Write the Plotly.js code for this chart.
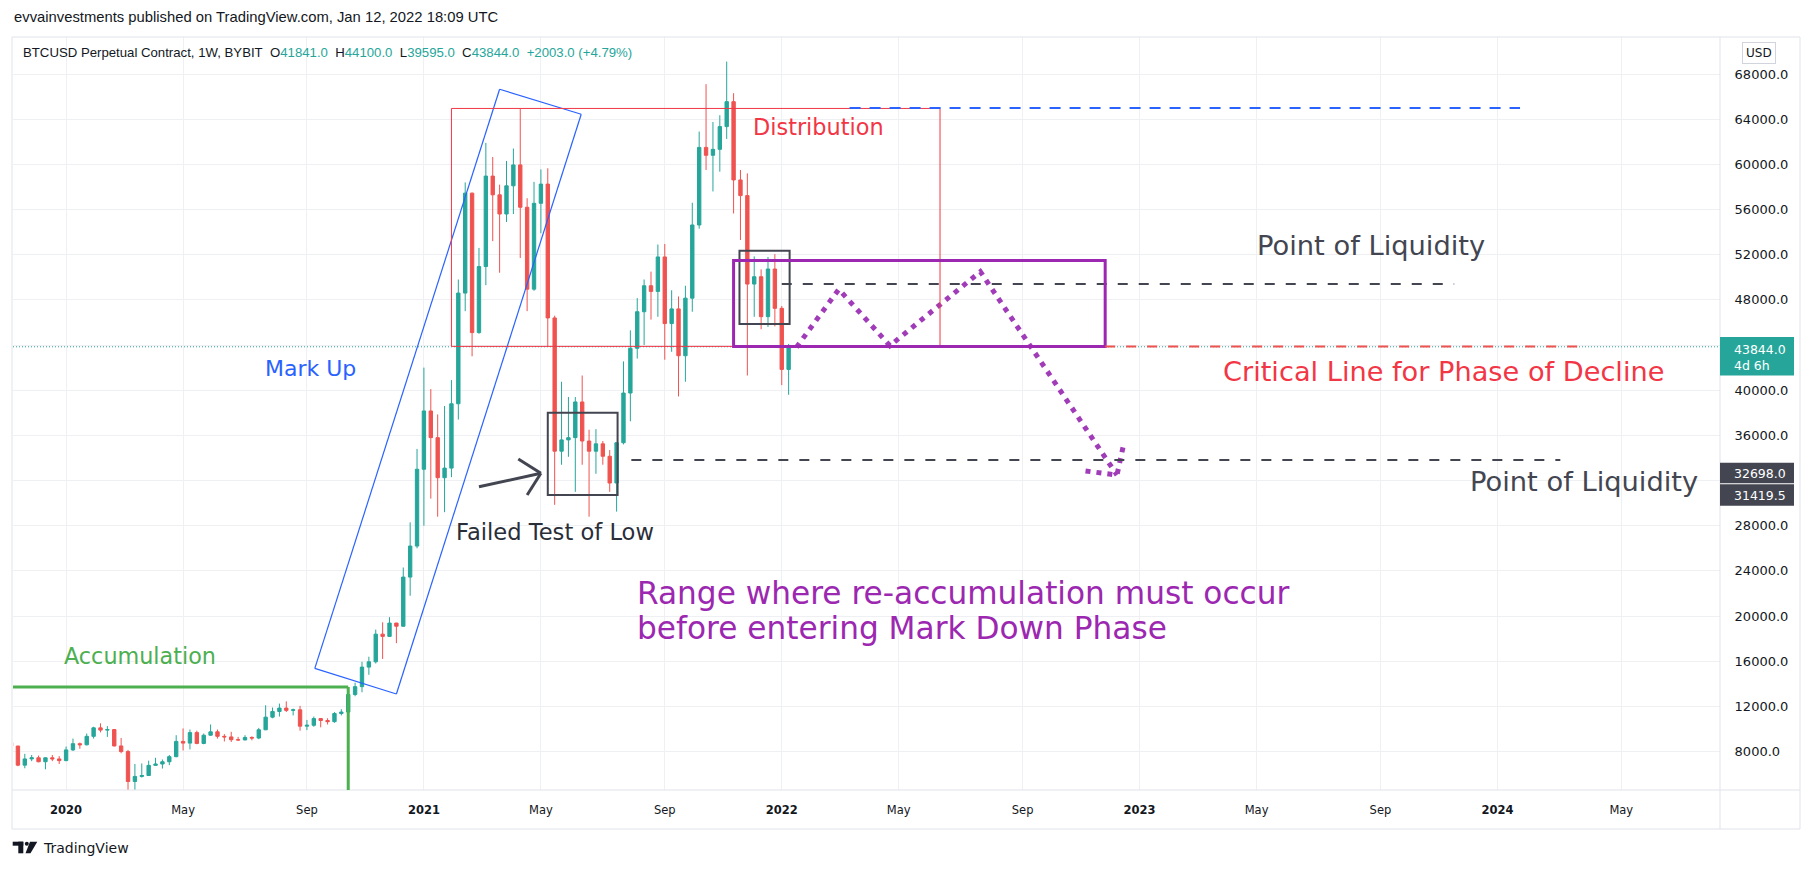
<!DOCTYPE html>
<html><head><meta charset="utf-8">
<script src="https://cdn.plot.ly/plotly-3.0.1.min.js"></script>
<style>html,body{margin:0;padding:0;background:#fff;}#chart{width:1813px;height:870px;}</style>
</head><body><div id="chart"></div>
<script>
// ---- weekly candles (BTCUSD Perpetual, BYBIT, 1W) ----
const weeks = ['2019-11-11','2019-11-18','2019-11-25','2019-12-02','2019-12-09','2019-12-16','2019-12-23','2019-12-30',
'2020-01-06','2020-01-13','2020-01-20','2020-01-27','2020-02-03','2020-02-10','2020-02-17','2020-02-24','2020-03-02','2020-03-09','2020-03-16','2020-03-23','2020-03-30',
'2020-04-06','2020-04-13','2020-04-20','2020-04-27','2020-05-04','2020-05-11','2020-05-18','2020-05-25','2020-06-01','2020-06-08','2020-06-15','2020-06-22','2020-06-29',
'2020-07-06','2020-07-13','2020-07-20','2020-07-27','2020-08-03','2020-08-10','2020-08-17','2020-08-24','2020-08-31','2020-09-07','2020-09-14','2020-09-21','2020-09-28',
'2020-10-05','2020-10-12','2020-10-19','2020-10-26','2020-11-02','2020-11-09','2020-11-16','2020-11-23','2020-11-30','2020-12-07','2020-12-14','2020-12-21','2020-12-28',
'2021-01-04','2021-01-11','2021-01-18','2021-01-25','2021-02-01','2021-02-08','2021-02-15','2021-02-22','2021-03-01','2021-03-08','2021-03-15','2021-03-22','2021-03-29',
'2021-04-05','2021-04-12','2021-04-19','2021-04-26','2021-05-03','2021-05-10','2021-05-17','2021-05-24','2021-05-31','2021-06-07','2021-06-14','2021-06-21','2021-06-28',
'2021-07-05','2021-07-12','2021-07-19','2021-07-26','2021-08-02','2021-08-09','2021-08-16','2021-08-23','2021-08-30','2021-09-06','2021-09-13','2021-09-20','2021-09-27',
'2021-10-04','2021-10-11','2021-10-18','2021-10-25','2021-11-01','2021-11-08','2021-11-15','2021-11-22','2021-11-29','2021-12-06','2021-12-13','2021-12-20','2021-12-27',
'2022-01-03','2022-01-10'];
const opens = [8800,8490,6800,7350,7450,7100,7450,7350,
7200,8150,8700,8600,9350,10100,9900,9950,8500,8000,5350,5800,5880,
6780,6900,7100,7550,8900,8750,9680,8720,9450,9750,9350,9300,9050,
9030,9250,9200,9930,11050,11550,11850,11650,11700,10250,10330,10920,10750,
10650,11370,11500,13050,13750,15480,15950,18400,18200,19380,19100,23450,26200,
33000,38160,35800,32250,33100,38800,48600,57450,45100,50950,58960,57300,55600,
58100,59950,56200,48950,56550,58250,46400,34600,35600,35800,38960,35500,34600,
35250,34150,31780,35350,39750,43710,46950,49250,48750,51800,45900,47200,43050,
48150,54630,61500,60800,61330,63340,65550,58620,57230,49400,50050,46510,50730,
47250,41841];
const highs = [9100,8500,7800,7700,7650,7500,7700,7600,
8450,9150,8800,9600,10200,10500,10250,10000,9200,8150,6900,6950,7200,
7450,7300,7700,9450,10050,9950,9850,9600,10400,9950,9550,9750,9300,
9450,9350,10100,12100,11900,12250,12450,11800,12050,10800,11100,10950,10950,
11500,11750,13350,14100,15950,16400,18800,19450,19900,19400,24300,28300,34800,
42000,40100,37850,38600,40900,49800,58400,57500,52600,61900,60650,58200,60300,
61400,64900,57000,58450,59550,59650,46600,40750,39400,39400,41300,36500,36550,
35500,34700,35400,42550,45300,48150,49800,50500,52900,52950,48850,48300,49250,
56600,62900,67100,63750,64350,69100,66300,59500,59200,51850,50700,51800,52050,
47450,44100];
const lows = [8400,6700,6520,7150,7050,6430,7150,6900,
7150,8050,8250,8550,9150,9700,9300,8450,7850,3850,4450,5700,5850,
6750,6500,6800,7500,8100,8200,8650,8650,9400,9150,8900,8850,8950,
9000,9000,9100,9900,10950,11100,11500,11200,9850,9900,10200,10150,10400,
10550,11200,11400,12900,13250,14800,15800,16200,18150,17600,19050,21800,26000,
28000,30400,28800,29200,32300,37400,47000,43000,45000,49300,53200,50400,54900,
55600,51700,47000,48800,53900,43850,29850,33400,34100,31000,33400,28800,32600,
33400,31000,29250,35200,37250,42800,44000,46250,46500,42700,43400,39450,40750,
46950,54300,59500,57600,59350,62250,55650,53300,41300,46500,45400,45600,45650,
40450,39595];
const closes = [8490,6800,7350,7450,7100,7450,7350,7200,
8150,8700,8600,9350,10100,9900,9950,8500,8000,5350,5800,5880,6780,
6900,7100,7550,8900,8750,9680,8720,9450,9750,9350,9300,9050,9030,
9250,9200,9930,11050,11550,11850,11650,11700,10250,10330,10920,10750,10650,
11370,11500,13050,13750,15480,15950,18400,18200,19380,19100,23450,26200,33000,
38160,35800,32250,33100,38800,48600,57450,45100,50950,58960,57300,55600,58100,
59950,56200,48950,56550,58250,46400,34600,35600,35800,38960,35500,34600,35250,
34150,31780,35350,39750,43710,46950,49250,48750,51800,45900,47200,43050,48150,
54630,61500,60800,61330,63340,65550,58620,57230,49400,50050,46510,50730,47250,
41841,43844];

// ---- axis ticks ----
const tickDates = ['2020-01-06','2020-05-04','2020-09-07','2021-01-04','2021-05-03','2021-09-06','2022-01-03','2022-05-02','2022-09-05','2023-01-02','2023-05-01','2023-09-04','2024-01-01','2024-05-06'];
const tickLabels = ['<b>2020</b>','May','Sep','<b>2021</b>','May','Sep','<b>2022</b>','May','Sep','<b>2023</b>','May','Sep','<b>2024</b>','May'];
const priceTicks = [8000,12000,16000,20000,24000,28000,32000,36000,40000,44000,48000,52000,56000,60000,64000,68000];
// labels hidden behind the price-scale markers (44000 / 32000) in the reference
const priceTickLabels = ['8000.0','12000.0','16000.0','20000.0','24000.0','28000.0','','36000.0','40000.0','','48000.0','52000.0','56000.0','60000.0','64000.0','68000.0'];

// ---- drawn projection path (dotted arrow) ----
const projDates = ['2022-01-18','2022-03-02','2022-04-23','2022-07-24','2022-12-10',null,'2022-11-08','2022-12-10','2022-12-17'];
const projPrices = [43800,48935,43941,50494,32492,null,32845,32492,35298];

const lastPrice = 43844;
const levelLow = 33820, levelHigh = 49400, criticalLevel = 43880;

// ---- layout helpers (pixel -> paper for frame decorations) ----
const L=13, R=1720, T=37, B=790;
const px = x => (x - L) / (R - L);
const py = y => (B - y) / (B - T);
const F = 'DejaVu Sans, sans-serif';
const FH = 'Liberation Sans, Arial, sans-serif';
const UP = '#26a69a', DN = '#ef5350';

const candles = {
  type:'candlestick', x:weeks, open:opens, high:highs, low:lows, close:closes,
  increasing:{line:{color:UP,width:1}, fillcolor:UP},
  decreasing:{line:{color:DN,width:1}, fillcolor:DN},
  whiskerwidth:0, hoverinfo:'skip', showlegend:false
};
const proj = {
  type:'scatter', mode:'lines', x:projDates, y:projPrices, connectgaps:false,
  line:{color:'#a03cb8', width:5, dash:'5px,6px'}, hoverinfo:'skip', showlegend:false
};

function ln(x0,y0,x1,y1,color,width,dash){
  return {type:'line', xref:'x', yref:'y', x0, y0, x1, y1, line:{color, width, dash: dash||'solid'}};
}
function pline(x0,y0,x1,y1,color){
  return {type:'line', xref:'paper', yref:'paper', x0:px(x0), y0:py(y0), x1:px(x1), y1:py(y1), line:{color:color||'#e0e3eb', width:1}};
}
function prect(x0,y0,x1,y1,fill){
  return {type:'rect', xref:'paper', yref:'paper', x0:px(x0), y0:py(y0), x1:px(x1), y1:py(y1), fillcolor:fill, line:{width:0}};
}
const GRAY = '#434651', PURPLE = '#9c27b0', RED = '#f23645', BLUE = '#2962ff', GREEN = '#4caf50';

const shapes = [
  // frame
  pline(12,37,1800,37), pline(12,829,1800,829), pline(12,37,12,829), pline(1800,37,1800,829),
  pline(12,790,1800,790), pline(1720,37,1720,829),
  // last price dotted line
  {type:'line', xref:'paper', yref:'y', x0:0, x1:1, y0:lastPrice, y1:lastPrice, line:{color:UP, width:1, dash:'1px,2px'}},
  // accumulation bracket
  ln('2019-10-01',13718,'2020-10-19',13718,GREEN,3),
  ln('2020-10-19',13718,'2020-10-19',2000,GREEN,3),
  // mark-up channel
  ln('2020-09-15',15374,'2021-03-22',66645,BLUE,1.2),
  ln('2021-03-22',66645,'2021-06-13',64431,BLUE,1.2),
  ln('2021-06-13',64431,'2020-12-07',13098,BLUE,1.2),
  ln('2020-12-07',13098,'2020-09-15',15374,BLUE,1.2),
  // distribution box
  {type:'rect', xref:'x', yref:'y', x0:'2021-02-01', x1:'2022-06-13', y0:criticalLevel, y1:64950, line:{color:RED, width:1}, fillcolor:'rgba(0,0,0,0)'},
  ln('2022-03-13',65000,'2024-01-24',65000,BLUE,2,'11px,9px'),
  // failed test box + arrow
  {type:'rect', xref:'x', yref:'y', x0:'2021-05-10', x1:'2021-07-20', y0:30720, y1:38008, line:{color:GRAY, width:2}, fillcolor:'rgba(0,0,0,0)'},
  ln('2021-03-01',31455,'2021-05-03',32642,GRAY,3),
  ln('2021-04-10',33908,'2021-05-03',32642,GRAY,3),
  ln('2021-04-19',30720,'2021-05-03',32642,GRAY,3),
  // liquidity levels
  ln('2021-08-03',levelLow,'2024-03-05',levelLow,GRAY,2,'10px,11px'),
  ln('2022-01-03',levelHigh,'2023-11-18',levelHigh,GRAY,2,'10px,11px'),
  // small consolidation box
  {type:'rect', xref:'x', yref:'y', x0:'2021-11-21', x1:'2022-01-11', y0:45862, y1:52353, line:{color:GRAY, width:2}, fillcolor:'rgba(0,0,0,0)'},
  // re-accumulation range box
  {type:'rect', xref:'x', yref:'y', x0:'2021-11-15', x1:'2022-11-28', y0:criticalLevel, y1:51480, line:{color:PURPLE, width:3}, fillcolor:'rgba(0,0,0,0)'},
  // critical line
  ln('2022-11-28',criticalLevel,'2024-03-29',criticalLevel,'#ef5350',2,'10px,11px'),
  // price-axis labels
  prect(1720,337,1794,375.5,UP),
  prect(1720,462.7,1794,483.3,'#434651'),
  prect(1720,484.3,1794,505.7,'#434651'),
  // TradingView logo
  prect(12.7,841.7,23.3,845.7,'#131722'),
  prect(18.3,841.7,23.3,853.3,'#131722'),
  {type:'circle', xref:'paper', yref:'paper', x0:px(24.8), x1:px(28.8), y0:py(841.7), y1:py(845.7), fillcolor:'#131722', line:{width:0}},
  {type:'path', xref:'paper', yref:'paper', path:`M ${px(30)} ${py(841.7)} L ${px(37.3)} ${py(841.7)} L ${px(30.5)} ${py(853.3)} L ${px(25.5)} ${py(853.3)} Z`, fillcolor:'#131722', line:{width:0}}
];

function txt(x,y,text,size,color,extra){
  return Object.assign({xref:'x', yref:'y', x, y, text, showarrow:false, xanchor:'left', yanchor:'middle',
    font:{family:F, size, color}}, extra||{});
}
function ptxt(x,y,text,size,color,family,extra){
  return Object.assign({xref:'paper', yref:'paper', x:px(x), y:py(y), text, showarrow:false, xanchor:'left', yanchor:'middle',
    font:{family:family||F, size, color}}, extra||{});
}
const sp = '\u00a0';
const T_ = c => `<span style="color:${UP}">${c}</span>`;
const annotations = [
  txt('2020-01-02',16499,'Accumulation',22.3,GREEN),
  txt('2020-07-24',41886,'Mark Up',22,BLUE),
  txt('2021-12-03',63333,'Distribution',22.4,RED),
  txt('2021-02-04',27488,'Failed Test of Low',22.6,'#2a2e39'),
  txt('2023-04-29',52858,'Point of Liquidity',27.3,GRAY),
  txt('2023-12-02',31960,'Point of Liquidity',27.3,GRAY),
  txt('2023-03-26',41683,'Critical Line for Phase of Decline',27.2,RED),
  txt('2021-08-07',22025,'Range where re-accumulation must occur',31.2,PURPLE),
  txt('2021-08-07',18952,'before entering Mark Down Phase',31.2,PURPLE),
  // header
  ptxt(12,17,'evvainvestments published on TradingView.com, Jan 12, 2022 18:09 UTC',14.8,'#131722',FH),
  ptxt(21,53,'BTCUSD Perpetual Contract, 1W, BYBIT'+sp+sp+'O'+T_('41841.0')+sp+sp+'H'+T_('44100.0')+sp+sp+'L'+T_('39595.0')+sp+sp+'C'+T_('43844.0')+sp+sp+T_('+2003.0 (+4.79%)'),13.2,'#131722',FH),
  // axis labels
  ptxt(1733,357.5,'43844.0<br>4d 6h',12.5,'#ffffff',F,{align:'left', borderpad:0}),
  ptxt(1733,473.3,'32698.0',12.5,'#ffffff',F,{borderpad:0}),
  ptxt(1733,495.7,'31419.5',12.5,'#ffffff',F,{borderpad:0}),
  Object.assign(ptxt(1758.5,53,'USD',12,'#131722'),{xanchor:'center', bordercolor:'#d1d4dc', borderwidth:1, borderpad:3}),
  // footer
  ptxt(41,848,'TradingView',14,'#131722')
];

const layout = {
  width:1813, height:870,
  margin:{l:L, r:1813-R, t:T, b:870-B},
  paper_bgcolor:'#ffffff', plot_bgcolor:'#ffffff',
  showlegend:false,
  xaxis:{type:'date', range:['2019-11-13','2024-08-14 10:00'], tickvals:tickDates, ticktext:tickLabels,
    ticks:'outside', ticklen:9, tickcolor:'rgba(0,0,0,0)', showgrid:true, gridcolor:'#eef0f4', zeroline:false, showline:false,
    rangeslider:{visible:false}, tickfont:{family:F, size:11.5, color:'#131722'}, fixedrange:true},
  yaxis:{side:'right', range:[4598,71276], tickvals:priceTicks, ticktext:priceTickLabels,
    ticks:'outside', ticklen:11, tickcolor:'rgba(0,0,0,0)', showgrid:true, gridcolor:'#eef0f4', zeroline:false, showline:false,
    tickfont:{family:F, size:13, color:'#131722'}, fixedrange:true},
  shapes, annotations
};
Plotly.newPlot('chart',[candles, proj],layout,{staticPlot:true, displayModeBar:false});
</script></body></html>
